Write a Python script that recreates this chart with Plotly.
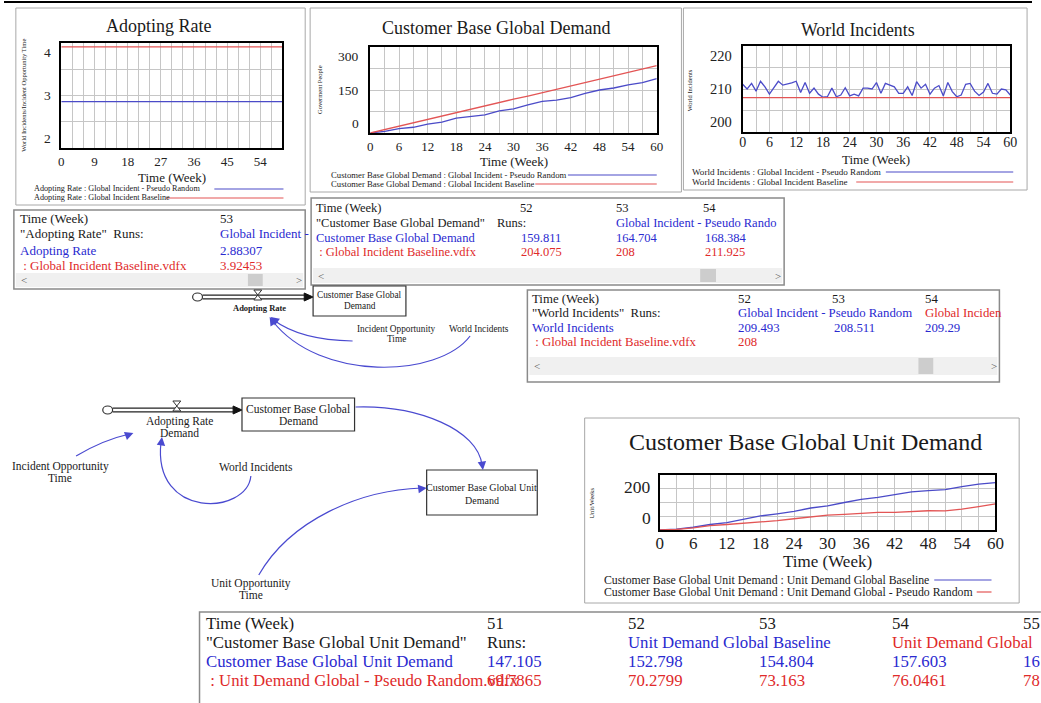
import plotly.graph_objects as go

W, H = 1041, 703
SERIF = "Liberation Serif, Times New Roman, serif"
K = "#1a1a1a"
BLUE_T = "#2a2ad0"
RED_T = "#e02a2a"
BLUE_L = "#4b4bc8"
RED_L = "#e35555"
ARROW = "#4a4ad0"
GRID = "#c6c6c6"

# ---- data ----
grid_weeks = [0, 3, 6, 9, 12, 15, 18, 21, 24, 27, 30, 33, 36, 39, 42, 45, 48, 51, 54, 57, 60]
ticks_by9 = ["0", "", "", "9", "", "", "18", "", "", "27", "", "", "36", "", "", "45", "", "", "54", "", ""]
ticks_by6 = ["0", "", "6", "", "12", "", "18", "", "24", "", "30", "", "36", "", "42", "", "48", "", "54", "", "60"]

ar_weeks = [0, 60]
ar_random = [2.883, 2.883]
ar_baseline = [3.925, 3.925]

cbgd_weeks = grid_weeks
cbgd_random = [0, 6, 15, 20, 31, 38, 52, 58, 63, 77, 84, 98, 110, 115, 123, 138, 150, 157, 168, 176, 190]
cbgd_baseline = [0, 12, 23, 35, 47, 59, 70, 82, 94, 106, 118, 129, 141, 153, 165, 176, 188, 200, 212, 224, 235]

wi_weeks = list(range(61))
wi_random = [211.1, 210.0, 211.3, 209.5, 211.8, 210.5, 208.8, 210.2, 211.8, 210.9,
             211.1, 211.4, 211.8, 209.2, 211.5, 209.0, 210.2, 208.8, 208.1, 208.2,
             210.2, 208.2, 208.6, 210.3, 208.4, 208.8, 208.4, 210.2, 210.2, 210.0,
             211.5, 209.0, 211.3, 210.9, 210.5, 209.0, 209.0, 210.5, 208.5, 211.7,
             210.2, 211.1, 208.8, 210.2, 210.8, 208.4, 211.5, 209.4, 208.2, 208.6,
             211.1, 211.3, 209.5, 208.5, 209.3, 211.3, 209.0, 208.8, 210.0, 209.8,
             208.6]
wi_base_weeks = [0, 60]
wi_baseline = [208, 208]

cbgud_weeks = grid_weeks
cbgud_baseline = [0, 3, 10, 20, 27, 39, 51, 59, 68, 80, 88, 100, 111, 119, 129, 139, 143, 147, 157.6, 167, 172]
cbgud_random = [0, 2, 8, 16, 20, 24, 29, 34, 41, 47, 54, 57, 61, 64, 64, 68, 70, 69.8, 76, 85, 95]


def fx(x):
    return x / W


def fy(y):
    return 1 - y / H


def P(x, y):
    return f"{fx(x):.5f},{fy(y):.5f}"


fig = go.Figure()
shapes = []
annotations = []


def text(x, y, s, size, color=K, anchor="left", vanchor="middle", angle=0, bold=False):
    if bold:
        s = f"<b>{s}</b>"
    annotations.append(dict(x=fx(x), y=fy(y), xref="paper", yref="paper", text=s, showarrow=False,
                            xanchor=anchor, yanchor=vanchor, textangle=angle,
                            font=dict(family=SERIF, size=size, color=color)))


def rect(x0, y0, x1, y1, color="#a8a8a8", width=1, fill=None):
    shapes.append(dict(type="rect", xref="paper", yref="paper", x0=fx(x0), x1=fx(x1), y0=fy(y1), y1=fy(y0),
                       line=dict(color=color, width=width), fillcolor=fill, layer="below" if fill else "above"))


def hline(x0, x1, y, color, width=1.2):
    shapes.append(dict(type="line", xref="paper", yref="paper", x0=fx(x0), x1=fx(x1), y0=fy(y), y1=fy(y),
                       line=dict(color=color, width=width)))


def path(d, color=ARROW, width=1.2, fill=None):
    shapes.append(dict(type="path", xref="paper", yref="paper", path=d,
                       line=dict(color=color, width=width), fillcolor=fill))


def head(x, y, dx, dy, color=ARROW, size=1.3):
    annotations.append(dict(x=fx(x), y=fy(y), xref="paper", yref="paper", text="", showarrow=True,
                            ax=dx, ay=dy, arrowhead=2, arrowsize=size, arrowwidth=1.3, arrowcolor=color))


# ---- charts ----
charts = [
    dict(n=1, box=(58, 282, 43, 148), yr=[2, 4], ylabels=["4", "3", "2"], ticktext=ticks_by9, tfs=13, lab_x=50,
         standoff=0, series=[(ar_weeks, ar_random, BLUE_L), (ar_weeks, ar_baseline, RED_L)]),
    dict(n=2, box=(371, 661, 47, 133), yr=[0, 300], ylabels=["300", "150", "0"], ticktext=ticks_by6, tfs=13, lab_x=362,
         standoff=0, series=[(cbgd_weeks, cbgd_random, BLUE_L), (cbgd_weeks, cbgd_baseline, RED_L)]),
    dict(n=3, box=(748, 1019, 46, 132), yr=[200, 220], ylabels=["220", "210", "200"], ticktext=ticks_by6, tfs=14,
         lab_x=739, standoff=-4, series=[(wi_weeks, wi_random, BLUE_L), (wi_base_weeks, wi_baseline, RED_L)]),
    dict(n=4, box=(664, 1004, 475, 530), yr=[0, 200], ylabels=["200", "", "0"], ticktext=ticks_by6, tfs=17, lab_x=657,
         standoff=-3, series=[(cbgud_weeks, cbgud_baseline, BLUE_L), (cbgud_weeks, cbgud_random, RED_L)]),
]

layout_axes = {}
for c in charts:
    n = c["n"]
    sfx = "" if n == 1 else str(n)
    x0, x1, y0, y1 = c["box"]
    r0, r1 = c["yr"]
    layout_axes["xaxis" + sfx] = dict(
        domain=[fx(x0), fx(x1)], range=[0, 60], anchor="y" + sfx, tickvals=grid_weeks, ticktext=c["ticktext"],
        showgrid=True, gridcolor=GRID, gridwidth=1, showline=True, mirror=True, linecolor="black", linewidth=2,
        ticks="", zeroline=False, ticklabelstandoff=c["standoff"], tickangle=0,
        tickfont=dict(family=SERIF, size=c["tfs"], color="#222"))
    layout_axes["yaxis" + sfx] = dict(
        domain=[fy(y1), fy(y0)], range=[r0, r1], anchor="x" + sfx,
        tickvals=[r0 + (r1 - r0) * k / 4 for k in (1, 2, 3)], showticklabels=False,
        showgrid=True, gridcolor=GRID, gridwidth=1, showline=True, mirror=True, linecolor="black", linewidth=2,
        ticks="", zeroline=False)
    for xs, ys, col in c["series"]:
        fig.add_trace(go.Scatter(x=xs, y=ys, mode="lines", line=dict(color=col, width=1.3),
                                 xaxis="x" + sfx, yaxis="y" + sfx, showlegend=False, hoverinfo="skip"))
    top, mid, bot = c["ylabels"]
    for lab, yv, va in ((top, r1, "top"), (mid, (r0 + r1) / 2, "middle"), (bot, r0, "bottom")):
        if lab:
            annotations.append(dict(x=fx(c["lab_x"]), y=yv, xref="paper", yref="y" + sfx, text=lab,
                                    showarrow=False, xanchor="right", yanchor=va,
                                    font=dict(family=SERIF, size=c["tfs"] + 0.5, color="#222")))

# panel frames, titles, axis titles and legends
rect(12, 8, 305, 205)
text(157, 26, "Adopting Rate", 18, anchor="center")
text(20, 95, "World Incidents/Incident Opportunity Time", 6.5, anchor="center", angle=-90)
text(170, 177, "Time (Week)", 13, anchor="center")
text(28, 189, "Adopting Rate : Global Incident - Pseudo Random", 8.2)
text(28, 198, "Adopting Rate : Global Incident Baseline", 8.2)
hline(213, 283, 189, BLUE_L)
hline(165, 283, 198, RED_L)

rect(310, 8, 686, 192)
text(498, 28, "Customer Base Global Demand", 18, anchor="center")
text(320, 90, "Goverment People", 6.5, anchor="center", angle=-90)
text(516, 161, "Time (Week)", 13, anchor="center")
text(329, 175, "Customer Base Global Demand : Global Incident - Pseudo Random", 8.7)
text(329, 184, "Customer Base Global Demand : Global Incident Baseline", 8.7)
hline(571, 661, 175, BLUE_L)
hline(538, 661, 184, RED_L)

rect(688, 8, 1036, 190)
text(865, 30, "World Incidents", 17.8, anchor="center")
text(695, 90, "World Incidents", 6.5, anchor="center", angle=-90)
text(883, 159, "Time (Week)", 13, anchor="center")
text(695, 172, "World Incidents : Global Incident - Pseudo Random", 9.1)
text(695, 182, "World Incidents : Global Incident Baseline", 9.1)
hline(893, 1022, 172, BLUE_L)
hline(863, 1022, 182, RED_L)

rect(588, 418, 1028, 603)
text(812, 442, "Customer Base Global Unit Demand", 24, anchor="center")
text(594, 503, "Unit/Weeks", 6.5, anchor="center", angle=-90)
text(834, 561, "Time (Week)", 17, anchor="center")
text(606, 580, "Customer Base Global Unit Demand : Unit Demand Global Baseline", 11.8)
text(606, 592, "Customer Base Global Unit Demand : Unit Demand Global - Pseudo Random", 11.8)
hline(942, 1000, 580, BLUE_L)
hline(985, 1000, 592, RED_L)

# top rule of the screenshot
hline(0, 1041, 2, "black", 2)


# ---- tables ----
def table(box, rows, fs, scroll=None, open_right=False):
    x0, y0, x1, y1 = box
    if open_right:
        shapes.append(dict(type="path", xref="paper", yref="paper",
                           path=f"M {P(x0, y1)} L {P(x0, y0)} L {P(x1, y0)}",
                           line=dict(color="#8a8a8a", width=1.5)))
    else:
        rect(x0, y0, x1, y1, color="#8a8a8a", width=1.5)
    if scroll:
        sy0, sy1, t0, t1 = scroll
        rect(x0 + 2, sy0, x1 - 2, sy1, color="rgba(0,0,0,0)", fill="#f0f0f0")
        rect(t0, sy0 + 1, t1, sy1 - 1, color="rgba(0,0,0,0)", fill="#cdcdcd")
        text(x0 + 5, (sy0 + sy1) / 2, "<", 11, color="#555")
        text(x1 - 11, (sy0 + sy1) / 2, ">", 11, color="#555")
    for y, items in rows:
        for x, s, col in items:
            text(x, y, s, fs, color=col)


table((10, 210, 305, 289), [
    (218, [(14, "Time (Week)", K), (217, "53", K)]),
    (234, [(14, "\"Adopting Rate\"  Runs:", K), (217, "Global Incident -", BLUE_T)]),
    (250, [(14, "Adopting Rate", BLUE_T), (217, "2.88307", BLUE_T)]),
    (265, [(14, " : Global Incident Baseline.vdfx", RED_T), (217, "3.92453", RED_T)]),
], 13, scroll=(273, 287, 247, 262))

table((311, 198, 790, 285), [
    (208, [(314, "Time (Week)", K), (521, "52", K), (618, "53", K), (706, "54", K)]),
    (223, [(314, "\"Customer Base Global Demand\"", K), (497, "Runs:", K),
           (618, "Global Incident - Pseudo Rando", BLUE_T)]),
    (238, [(314, "Customer Base Global Demand", BLUE_T), (522, "159.811", BLUE_T), (618, "164.704", BLUE_T),
           (708, "168.384", BLUE_T)]),
    (252, [(314, " : Global Incident Baseline.vdfx", RED_T), (522, "204.075", RED_T), (618, "208", RED_T),
           (708, "211.925", RED_T)]),
], 12.5, scroll=(268, 283, 705, 721))

table((530, 290, 1008, 382), [
    (299, [(533, "Time (Week)", K), (741, "52", K), (836, "53", K), (931, "54", K)]),
    (313, [(533, "\"World Incidents\"  Runs:", K), (741, "Global Incident - Pseudo Random", BLUE_T),
           (931, "Global Inciden", RED_T)]),
    (328, [(533, "World Incidents", BLUE_T), (741, "209.493", BLUE_T), (838, "208.511", BLUE_T),
           (931, "209.29", BLUE_T)]),
    (342, [(533, " : Global Incident Baseline.vdfx", RED_T), (741, "208", RED_T)]),
], 12.8, scroll=(357, 375, 926, 941))

table((198, 612, 1050, 710), [
    (623, [(203, "Time (Week)", K), (487, "51", K), (630, "52", K), (763, "53", K), (897, "54", K), (1030, "55", K)]),
    (642, [(203, "\"Customer Base Global Unit Demand\"", K), (487, "Runs:", K),
           (630, "Unit Demand Global Baseline", BLUE_T), (897, "Unit Demand Global", RED_T)]),
    (661, [(203, "Customer Base Global Unit Demand", BLUE_T), (487, "147.105", BLUE_T), (630, "152.798", BLUE_T),
           (763, "154.804", BLUE_T), (897, "157.603", BLUE_T), (1030, "16", BLUE_T)]),
    (680, [(203, " : Unit Demand Global - Pseudo Random.vdfx", RED_T), (487, "69.7865", RED_T),
           (630, "70.2799", RED_T), (763, "73.163", RED_T), (897, "76.0461", RED_T), (1030, "78", RED_T)]),
], 16.8, open_right=True)


# ---- stock and flow diagrams ----
def flow(cx, cy, x_end, vx, vy):
    # cloud, double pipe, valve and black arrow into the stock
    shapes.append(dict(type="circle", xref="paper", yref="paper", x0=fx(cx - 5), x1=fx(cx + 5),
                       y0=fy(cy + 4), y1=fy(cy - 4), line=dict(color="#333", width=1.2)))
    hline(cx + 5, x_end - 6, cy - 1.8, "#222", 1.2)
    hline(cx + 5, x_end - 6, cy + 1.8, "#222", 1.2)
    path(f"M {P(x_end - 9, cy - 4)} L {P(x_end, cy)} L {P(x_end - 9, cy + 4)} Z", color="#111", width=1, fill="#111")
    path(f"M {P(vx - 4, vy - 5)} L {P(vx + 4, vy - 5)} L {P(vx - 4, vy + 5)} L {P(vx + 4, vy + 5)} Z",
         color="#333", width=1, fill="white")


# upper diagram
flow(196, 297, 313, 257, 295)
text(259, 308, "Adopting Rate", 8.5, anchor="center", bold=True)
rect(313, 286, 407, 316, color="#333", width=1.2)
text(360, 295, "Customer Base Global", 9.3, anchor="center")
text(360, 306, "Demand", 9.3, anchor="center")
text(397, 329, "Incident Opportunity", 9.3, anchor="center")
text(397, 339, "Time", 9.3, anchor="center")
text(481, 329, "World Incidents", 9.3, anchor="center")
path(f"M {P(353, 341)} Q {P(300, 340)} {P(273, 320)}")
head(270, 317, 8, 6)
path(f"M {P(472, 336)} C {P(440, 378)} {P(320, 382)} {P(272, 321)}")
head(269, 317, 5, 8)

# lower diagram
DF = 11.5
flow(105, 410, 241, 175, 406)
text(178, 421, "Adopting Rate", DF, anchor="center")
text(178, 433, "Demand", DF, anchor="center")
rect(241, 398, 355, 431, color="#333", width=1.2)
text(298, 409, "Customer Base Global", DF, anchor="center")
text(298, 421, "Demand", DF, anchor="center")
rect(428, 470, 540, 515, color="#333", width=1.2)
text(484, 487, "Customer Base Global Unit", 10, anchor="center")
text(484, 500, "Demand", 10, anchor="center")
text(57, 466, "Incident Opportunity", DF, anchor="center")
text(57, 478, "Time", DF, anchor="center")
text(255, 467, "World Incidents", DF, anchor="center")
text(250, 583, "Unit Opportunity", DF, anchor="center")
text(250, 595, "Time", DF, anchor="center")

path(f"M {P(73, 456)} Q {P(100, 440)} {P(127, 434)}")
head(131, 433, -8, 3)
path(f"M {P(250, 476)} C {P(246, 515)} {P(150, 520)} {P(159, 442)}")
head(160, 437, -1, 8)
path(f"M {P(356, 407)} C {P(420, 405)} {P(480, 430)} {P(484, 465)}")
head(485, 470, -1, -8)
path(f"M {P(258, 575)} C {P(290, 520)} {P(360, 490)} {P(423, 488)}")
head(428, 488, -8, 1)

fig.update_layout(
    width=W, height=H, margin=dict(l=0, r=0, t=0, b=0),
    paper_bgcolor="white", plot_bgcolor="white",
    shapes=shapes, annotations=annotations, showlegend=False,
    **layout_axes,
)

# drop the default 8px body margin so the figure fills the window exactly
fig.write_html("out.html", config={"displayModeBar": False},
               post_script="document.body.style.margin='0';")
